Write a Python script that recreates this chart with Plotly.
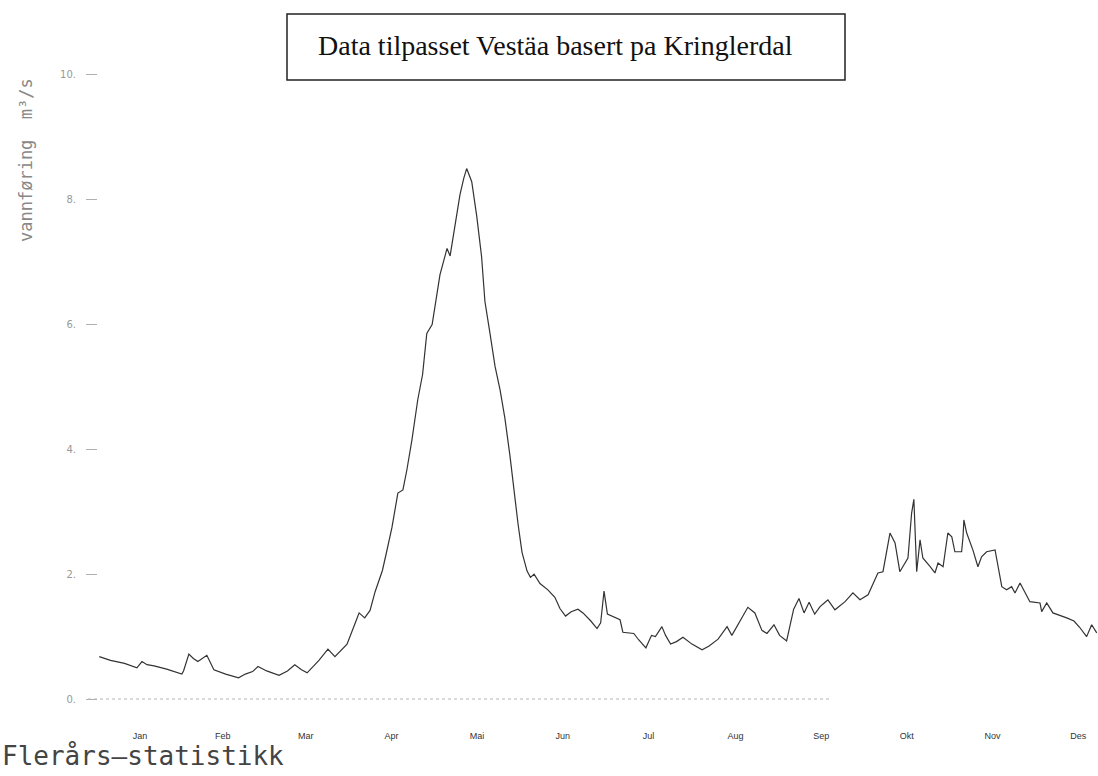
import plotly.graph_objects as go

# ---- data ----
month_labels = ["Jan", "Feb", "Mar", "Apr", "Mai", "Jun", "Jul", "Aug", "Sep", "Okt", "Nov", "Des"]
month_days = [31, 28, 31, 30, 31, 30, 31, 31, 30, 31, 30, 31]

day = [1, 5, 10, 14.4, 16.2, 18, 20.5, 25, 30.4, 31, 32.9, 34.5, 36.1, 39.3, 41.8, 46, 50.6, 53,
       55.6, 57.5, 60.6, 65.0, 68, 70.6, 73, 75.0, 79.2, 82.4, 84.9, 87, 89.2, 92.4, 93.5, 95.5,
       97.4, 99.2, 101.8, 103.5, 105.2, 107.3, 109.1, 110.5, 112.3, 114.4, 116.1, 117.6, 119.5,
       120.9, 122.3, 124.1, 124.8, 125.9, 126.6, 127.6, 129.4, 130.8, 131.8, 133.6, 135.4, 137.1,
       138.3, 140.1, 141.9, 143.7, 145.4, 147.2, 149.0, 150.1, 151.5, 153.3, 154.5, 155.8, 157.9,
       160.7, 163.2, 165, 167.0, 169, 171.4, 173.2, 176, 178.2, 179.5, 180.7, 181.9, 184, 186.4,
       187.4, 191.3, 193, 195.6, 197.6, 199, 201.3, 202.6, 204.4, 206.5, 208.8, 210, 212.0, 215.6,
       218.1, 221.3, 224.5, 226.2, 228.7, 231.9, 234.4, 236.9, 238.7, 241.2, 243.2, 245.7, 248.2,
       250.1, 251.9, 253.7, 255.7, 257.6, 259.4, 260.4, 262.9, 266.5, 269.3, 271.8, 274.7, 278.2,
       280.0, 282.5, 284.3, 285.3, 286.0, 288.9, 290.2, 291.0, 292.0, 293.2, 294.2, 296.8, 298.5,
       299.6, 301.4, 303.1, 304.5, 305.6, 308.0, 308.5, 308.8, 309.8, 312.0, 313.8, 315.1, 316.9,
       319.9, 322.3, 324.0, 325.8, 327.0, 328.8, 332.3, 335.9, 336.5, 338.3, 340.5, 345.4, 348,
       350, 352.5, 354.3, 356.1]

flow = [0.68, 0.62, 0.57, 0.50, 0.60, 0.55, 0.53, 0.48, 0.40, 0.45, 0.72, 0.65, 0.60, 0.70, 0.47,
        0.40, 0.34, 0.40, 0.44, 0.52, 0.45, 0.38, 0.45, 0.55, 0.47, 0.42, 0.62, 0.80, 0.68, 0.78,
        0.88, 1.25, 1.38, 1.30, 1.42, 1.72, 2.06, 2.40, 2.75, 3.30, 3.35, 3.67, 4.15, 4.80, 5.20,
        5.86, 6.00, 6.40, 6.80, 7.10, 7.22, 7.10, 7.30, 7.60, 8.08, 8.35, 8.50, 8.29, 7.73, 7.09,
        6.37, 5.86, 5.33, 4.95, 4.50, 3.90, 3.20, 2.80, 2.35, 2.05, 1.95, 2.00, 1.85, 1.75, 1.63,
        1.45, 1.33, 1.40, 1.44, 1.38, 1.25, 1.13, 1.22, 1.73, 1.36, 1.32, 1.27, 1.07, 1.05, 0.95,
        0.82, 1.02, 1.00, 1.16, 1.02, 0.88, 0.92, 0.99, 0.95, 0.88, 0.79, 0.85, 0.96, 1.16, 1.02,
        1.22, 1.47, 1.38, 1.10, 1.05, 1.19, 1.02, 0.93, 1.44, 1.61, 1.38, 1.55, 1.36, 1.48, 1.55,
        1.59, 1.43, 1.56, 1.70, 1.59, 1.67, 2.02, 2.04, 2.66, 2.50, 2.26, 2.04, 2.26, 2.98, 3.20,
        2.04, 2.55, 2.26, 2.12, 2.02, 2.18, 2.12, 2.66, 2.60, 2.36, 2.36, 2.60, 2.87, 2.66, 2.39,
        2.12, 2.28, 2.36, 2.39, 1.80, 1.75, 1.80, 1.70, 1.86, 1.56, 1.54, 1.40, 1.54, 1.38, 1.30,
        1.25, 1.15, 1.00, 1.19, 1.06]

y_tickvals = [0, 2, 4, 6, 8, 10]
y_ticktext = ["0.", "2.", "4.", "6.", "8.", "10."]

# month centre positions (day of year) derived from month lengths
month_centres = []
start = 0
for n in month_days:
    month_centres.append(start + n / 2)
    start += n

fig = go.Figure()
fig.add_trace(go.Scatter(
    x=day, y=flow, mode="lines",
    line=dict(color="#333333", width=1.2),
    hoverinfo="skip", showlegend=False,
))

W, H = 1098, 776
L, R, T, B = 98, 0, 60, 61
pw, ph = W - L - R, H - T - B


def px(xp):
    return (xp - L) / pw


def py(yp):
    return (H - B - yp) / ph


fig.update_layout(
    width=W, height=H,
    margin=dict(l=L, r=R, t=T, b=B),
    paper_bgcolor="white", plot_bgcolor="white",
    showlegend=False,
    xaxis=dict(
        range=[0.55, 356.55],
        tickmode="array", tickvals=month_centres, ticktext=month_labels,
        ticks="", showgrid=False, zeroline=False, showline=False,
        tickfont=dict(family="Liberation Sans Narrow, Liberation Sans, Arial", size=9, color="#333333"),
        ticklabelstandoff=14,
    ),
    yaxis=dict(
        range=[-0.256, 10.24],
        tickmode="array", tickvals=y_tickvals, ticktext=y_ticktext,
        ticks="outside", ticklen=11, tickcolor="#b0b0b0", tickwidth=1,
        showgrid=False, zeroline=False, showline=False,
        tickfont=dict(family="DejaVu Sans", size=10, color="#999999"),
        ticklabelstandoff=8,
    ),
    shapes=[
        dict(type="rect", xref="paper", yref="paper",
             x0=px(287), x1=px(845), y0=py(80), y1=py(14),
             line=dict(color="#222222", width=1.5), fillcolor="rgba(0,0,0,0)"),
        dict(type="line", xref="paper", yref="y",
             x0=px(88), x1=px(830), y0=0, y1=0,
             line=dict(color="#b5b5b5", width=1, dash="dot")),
    ],
    annotations=[
        dict(text="Data tilpasset Vestäa basert pa Kringlerdal",
             xref="paper", yref="paper", x=px(555), y=py(45),
             xanchor="center", yanchor="middle", showarrow=False,
             font=dict(family="Liberation Serif, Times New Roman, serif", size=28, color="#111111")),
        dict(text="vannføring  m³/s",
             xref="paper", yref="paper", x=px(26), y=py(160),
             xanchor="center", yanchor="middle", showarrow=False, textangle=-90,
             font=dict(family="DejaVu Sans Mono", size=17, color="#888888")),
        dict(text="Flerårs—statistikk",
             xref="paper", yref="paper", x=px(0), y=py(756),
             xanchor="left", yanchor="middle", showarrow=False,
             font=dict(family="DejaVu Sans Mono", size=26, color="#444444")),
    ],
)

fig.write_html("out.html",
               config={"displayModeBar": False},
               post_script="document.body.style.margin='0';document.body.style.overflow='hidden';")
